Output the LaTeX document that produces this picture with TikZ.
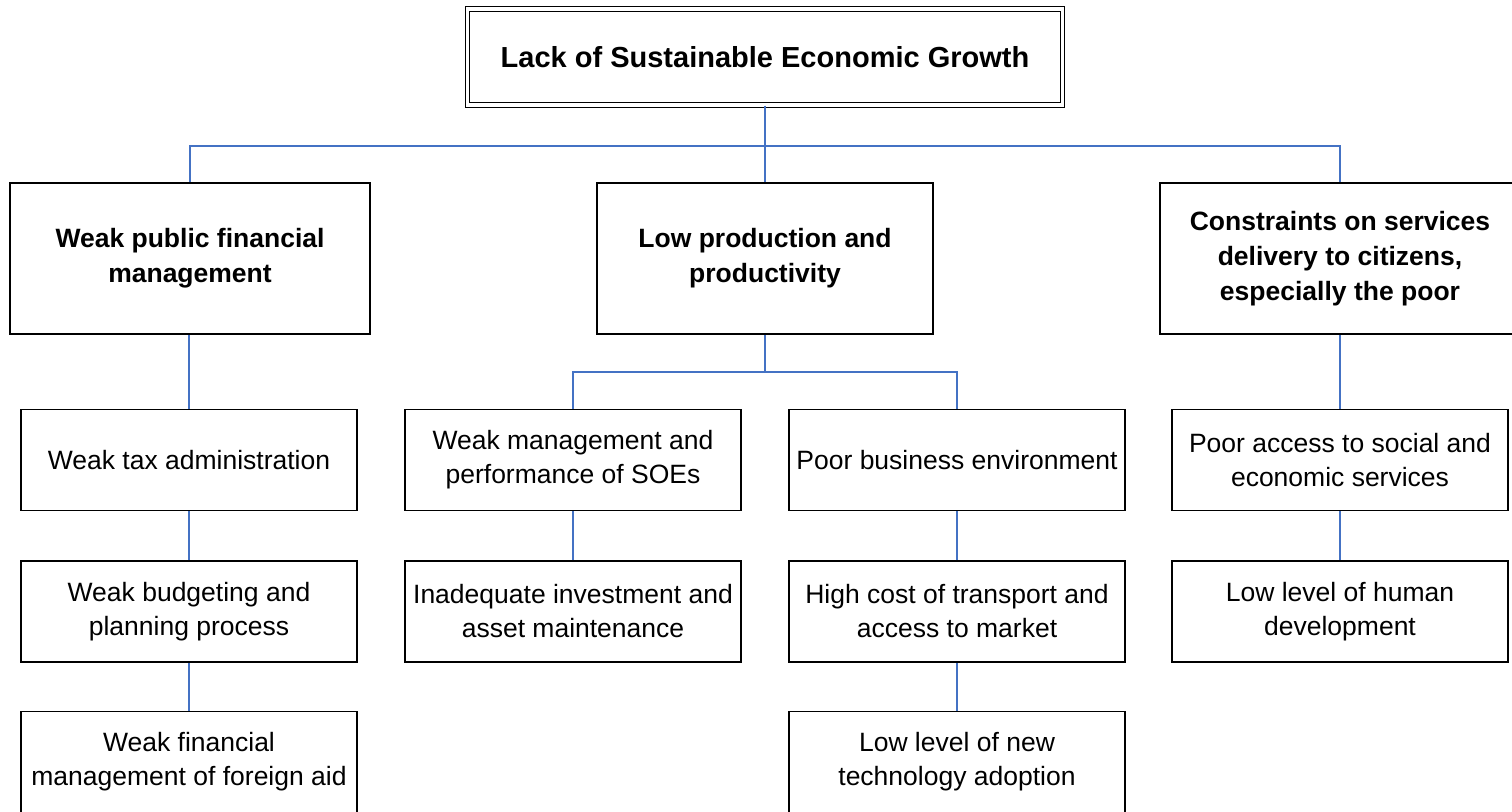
\documentclass[tikz,border=0pt]{standalone}
\usepackage{fontspec}
\setmainfont{Liberation Sans}
\usepackage{tikz}
\definecolor{linkblue}{RGB}{68,114,196}

\tikzset{
  cause/.style={draw=black, line width=0.8pt, minimum width=168pt,
    minimum height=50.5pt, align=center, inner sep=2pt,
    font=\fontsize{13.25}{17}\selectfont},
  mainbox/.style={cause, minimum width=180pt, minimum height=75.5pt,
    font=\bfseries\fontsize{13.25}{17.5}\selectfont},
  topbox/.style={draw=black, double, line width=0.6pt, double distance=1.6pt,
    minimum width=297.5pt, minimum height=48pt, inner sep=2pt,
    font=\bfseries\fontsize{14.5}{17}\selectfont},
  link/.style={draw=linkblue, line width=0.8pt}
}

\begin{document}
\begin{tikzpicture}[x=0.5pt,y=-0.5pt]
  \useasboundingbox (0,0) rectangle (1512,812);
  \clip (0,0) rectangle (1512,812);

  % problem at the top
  \node[topbox] (T) at (765,57) {Lack of Sustainable Economic Growth};

  % three main causes
  \node[mainbox] (A) at (190,258.5) {Weak public financial\\management};
  \node[mainbox, minimum width=168pt] (B) at (765,258.5) {Low production and\\productivity};
  \node[mainbox] (C) at (1340,258.5) {Constraints on services\\delivery to citizens,\\especially the poor};

  % sub causes
  \node[cause] (A1) at (189,460) {Weak tax administration};
  \node[cause] (A2) at (189,611.5) {Weak budgeting and\\planning process};
  \node[cause] (A3) at (189,762) {Weak financial\\management of foreign aid};
  \node[cause] (B1) at (573,460) {Weak management and\\performance of SOEs};
  \node[cause] (B2) at (573,611.5) {Inadequate investment and\\asset maintenance};
  \node[cause] (B3) at (957,460) {Poor business environment};
  \node[cause] (B4) at (957,611.5) {High cost of transport and\\access to market};
  \node[cause] (B5) at (957,762) {Low level of new\\technology adoption};
  \node[cause] (C1) at (1340,460) {Poor access to social and\\economic services};
  \node[cause] (C2) at (1340,611.5) {Low level of human\\development};

  % connectors
  \coordinate (bar) at (765,146);
  \draw[link] (T.south) -- (bar);
  \draw[link] (A.north) |- (bar) -| (C.north);
  \draw[link] (bar) -- (B.north);

  \coordinate (bbar) at (765,372);
  \draw[link] (B.south) -- (bbar);
  \draw[link] (B1.north) |- (bbar) -| (B3.north);

  \foreach \u/\l in {A/A1, A1/A2, A2/A3, B1/B2, B3/B4, B4/B5, C/C1, C1/C2}
    \draw[link] (\l.north) -- (\l.north |- \u.south);
\end{tikzpicture}
\end{document}
